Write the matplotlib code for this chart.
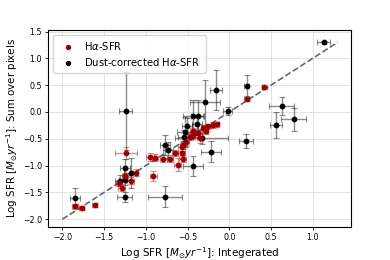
import matplotlib
matplotlib.use("Agg")
import matplotlib.pyplot as plt
import numpy as np

# H-alpha SFR (red)
red_x = [-1.85, -1.77, -1.61, -1.24, -1.12, -1.32, -1.29, -1.18, -1.25, -0.91, -0.95, -0.89,
         -0.79, -0.71, -0.65, -0.62, -0.57, -0.56, -0.31, -0.25, -0.19, -0.15, -0.43, -0.37,
         -0.47, -0.52, -0.55, -0.57, -0.35, -0.28, -0.41, -0.45, 0.21, 0.42]
red_y = [-1.76, -1.79, -1.73, -0.77, -1.13, -1.33, -1.41, -1.28, -1.20, -1.19, -0.84, -0.85,
         -0.87, -0.87, -0.77, -0.98, -0.77, -0.87, -0.30, -0.27, -0.24, -0.23, -0.36, -0.39,
         -0.46, -0.56, -0.62, -0.66, -0.49, -0.36, -0.40, -0.44, 0.24, 0.46]
red_xerr = [0.04, 0.03, 0.03, 0.13, 0.03, 0.04, 0.04, 0.04, 0.04, 0.04, 0.05, 0.04,
            0.04, 0.04, 0.04, 0.04, 0.04, 0.04, 0.03, 0.03, 0.03, 0.03, 0.04, 0.04,
            0.04, 0.04, 0.04, 0.04, 0.04, 0.03, 0.04, 0.04, 0.03, 0.03]
red_yerr = [0.05, 0.04, 0.04, 0.11, 0.06, 0.06, 0.06, 0.06, 0.07, 0.09, 0.07, 0.07,
            0.06, 0.06, 0.06, 0.12, 0.05, 0.06, 0.05, 0.05, 0.05, 0.05, 0.07, 0.07,
            0.07, 0.07, 0.07, 0.07, 0.08, 0.06, 0.07, 0.07, 0.04, 0.03]

# Dust-corrected H-alpha SFR (black)
blk_x = [1.13, 0.63, 0.56, 0.77, 0.21, -0.16, -0.29, -0.02, 0.20, -0.43, -0.38, -0.39,
         -0.51, -0.53, -0.54, -0.33, -0.22, -0.43, -0.77, -0.77, -0.74, -1.24, -1.25, -1.18,
         -1.31, -1.25, -1.25, -1.85]
blk_y = [1.30, 0.11, -0.24, -0.14, 0.49, 0.41, 0.18, 0.02, -0.54, -0.08, -0.08, -0.23,
         -0.26, -0.37, -0.46, -0.49, -0.74, -1.01, -1.58, -0.62, -0.71, 0.02, -1.05, -1.13,
         -1.28, -1.26, -1.58, -1.61]
blk_xerr = [0.08, 0.15, 0.07, 0.15, 0.03, 0.07, 0.18, 0.05, 0.08, 0.12, 0.08, 0.06,
            0.06, 0.10, 0.08, 0.32, 0.12, 0.12, 0.20, 0.06, 0.06, 0.08, 0.06, 0.08,
            0.06, 0.07, 0.09, 0.06]
blk_yerr = [0.03, 0.17, 0.24, 0.21, 0.19, 0.38, 0.42, 0.07, 0.13, 0.30, 0.30, 0.15,
            0.15, 0.28, 0.12, 0.10, 0.19, 0.19, 0.20, 0.19, 0.15, 0.73, 0.17, 0.28,
            0.10, 0.10, 0.09, 0.19]

line_x = [-2.0, 1.3]

fig = plt.figure(figsize=(3.9, 2.6), dpi=100)
ax = fig.add_axes([0.124, 0.128, 0.775, 0.757])

ax.errorbar(blk_x, blk_y, xerr=blk_xerr, yerr=blk_yerr, fmt='none',
            ecolor='black', alpha=0.45, elinewidth=1.0, capsize=2.5, capthick=0.8, zorder=2)
ax.errorbar(red_x, red_y, xerr=red_xerr, yerr=red_yerr, fmt='none',
            ecolor='#b22222', alpha=0.5, elinewidth=1.0, capsize=2.5, capthick=0.8, zorder=3)
ax.scatter(red_x, red_y, s=10, color='#9b0000', label=r'H$\alpha$-SFR', zorder=5)
ax.scatter(blk_x, blk_y, s=10, color='black', label=r'Dust-corrected H$\alpha$-SFR', zorder=4)
ax.plot(line_x, line_x, '--', color='dimgray', lw=1.2, zorder=1)

ax.set_xlim(-2.168, 1.454)
ax.set_ylim(-2.14, 1.53)
ax.set_xticks([-2.0, -1.5, -1.0, -0.5, 0.0, 0.5, 1.0])
ax.set_yticks([-2.0, -1.5, -1.0, -0.5, 0.0, 0.5, 1.0, 1.5])
ax.grid(True, color='#dddddd', lw=0.6)
ax.set_axisbelow(True)
ax.tick_params(labelsize=5.7, length=2.5, width=0.6, pad=2)
for s in ax.spines.values():
    s.set_linewidth(0.8)

ax.set_xlabel(r'Log SFR [$M_{\odot} yr^{-1}$]: Integerated', fontsize=7.5, labelpad=2)
ax.set_ylabel(r'Log SFR [$M_{\odot} yr^{-1}$]: Sum over pixels', fontsize=7.4, labelpad=2)
ax.legend(loc='upper left', fontsize=7.2, markerscale=0.9, handletextpad=0.6,
          borderpad=0.5, labelspacing=0.4, framealpha=0.8)

fig.savefig('out.png', dpi=100)
